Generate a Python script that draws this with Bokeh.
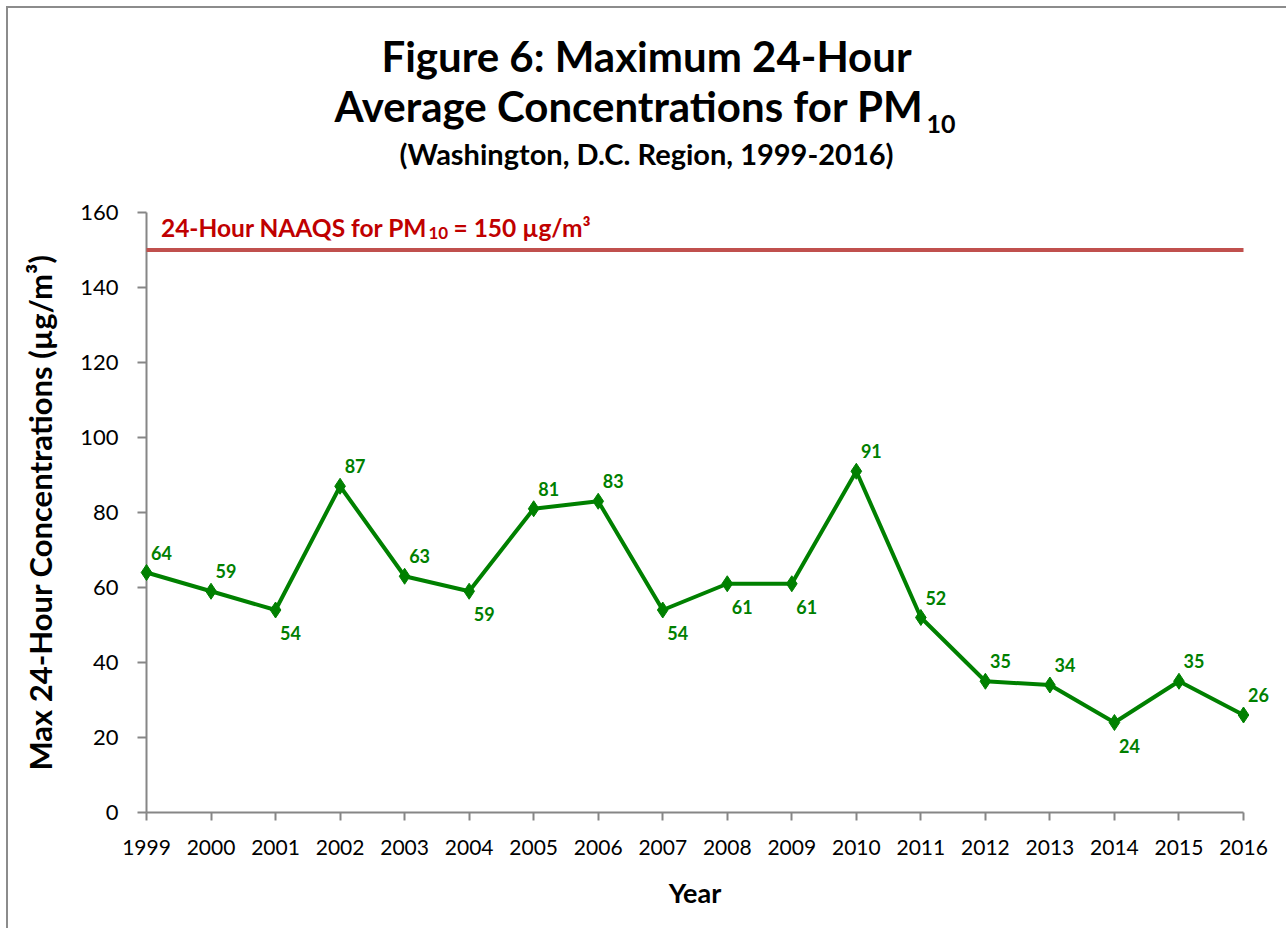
from bokeh.plotting import figure
from bokeh.models import Range1d, FixedTicker, Label
from bokeh.core.properties import value
from bokeh.embed import file_html
from bokeh.resources import INLINE

# ---------------- data ----------------
years = [1999, 2000, 2001, 2002, 2003, 2004, 2005, 2006, 2007, 2008,
         2009, 2010, 2011, 2012, 2013, 2014, 2015, 2016]
pm10_max = [64, 59, 54, 87, 63, 59, 81, 83, 54, 61,
            61, 91, 52, 35, 34, 24, 35, 26]
label_side = ["above", "above", "below", "above", "above", "below", "above", "above", "below", "below",
              "below", "above", "above", "above", "above", "below", "above", "above"]
naaqs_value = 150
y_ticks = [0, 20, 40, 60, 80, 100, 120, 140, 160]

title_line1 = "Figure 6: Maximum 24-Hour"
title_line2 = "Average Concentrations for PM"
title_sub = "10"
title_line3 = "(Washington, D.C. Region, 1999-2016)"
naaqs_text = "24-Hour NAAQS for PM"
naaqs_sub = "10"
naaqs_tail = "= 150 \u00b5g/m\u00b3"
y_label = "Max 24-Hour Concentrations (\u00b5g/m\u00b3)"
x_label = "Year"

# ---------------- layout ----------------
W, H = 1286, 928
ML, MR, MT, MB = 146, 43, 212, 116
X0, X1 = years[0], years[-1]
Y0, Y1 = 0, 160
frame_w = W - ML - MR
frame_h = H - MT - MB
ppx = frame_w / (X1 - X0)
ppy = frame_h / (Y1 - Y0)

def px2x(xp):
    return X0 + (xp - ML) / ppx

def px2y(yp):
    return Y1 - (yp - MT) / ppy

FONT = "Lato"
GREEN = "#008000"
RED_LINE = "#C0504D"
RED_TEXT = "#C00000"
AXIS = "#868686"

p = figure(width=W, height=H, output_backend="svg", toolbar_location=None, title=None,
           x_range=Range1d(X0, X1), y_range=Range1d(Y0, Y1),
           min_border_left=ML, min_border_right=MR, min_border_top=MT, min_border_bottom=MB)
p.outline_line_color = None
p.xgrid.visible = False
p.ygrid.visible = False
p.background_fill_color = "white"
p.border_fill_color = None
p.styles = {"background-color": "white",
            "box-shadow": "inset 6px 6px 0 0 white, inset 8px 8px 0 0 #8c8c8c"}

# ---------------- title (text glyphs drawn above the frame) ----------------
def add_text(xp, yp, txt, size, align, color="black"):
    p.text(x=[px2x(xp)], y=[px2y(yp)], text=[txt], text_align=align,
           text_baseline="alphabetic", text_font=value(FONT), text_font_style="bold",
           text_font_size=size, text_color=color, level="overlay")

add_text(646, 55, title_line1, "42px", "center")
add_text(923, 105, title_line2, "42px", "right")
add_text(926, 123, title_sub, "25px", "left")
add_text(646, 153, title_line3, "29px", "center")

# ---------------- axes ----------------
xa = p.xaxis[0]
xa.ticker = FixedTicker(ticks=years)
xa.axis_line_color = AXIS
xa.axis_line_width = 2
xa.major_tick_line_color = AXIS
xa.major_tick_line_width = 2
xa.major_tick_in = 0
xa.major_tick_out = 8
xa.minor_tick_line_color = None
xa.major_label_standoff = 19
xa.major_label_text_font = FONT
xa.major_label_text_font_size = "21px"
xa.major_label_text_color = "black"
xa.axis_label = x_label
xa.axis_label_text_font = FONT
xa.axis_label_text_font_style = "bold"
xa.axis_label_text_font_size = "27px"
xa.axis_label_text_color = "black"
xa.axis_label_standoff = 18

ya = p.yaxis[0]
ya.ticker = FixedTicker(ticks=y_ticks)
ya.axis_line_color = AXIS
ya.axis_line_width = 2
ya.major_tick_line_color = AXIS
ya.major_tick_line_width = 2
ya.major_tick_in = 0
ya.major_tick_out = 9
ya.minor_tick_line_color = None
ya.major_label_standoff = 19
ya.major_label_text_font = FONT
ya.major_label_text_font_size = "22px"
ya.major_label_text_color = "black"
ya.axis_label = y_label
ya.axis_label_text_font = FONT
ya.axis_label_text_font_style = "bold"
ya.axis_label_text_font_size = "31px"
ya.axis_label_text_color = "black"
ya.axis_label_standoff = 18

# ---------------- NAAQS line ----------------
p.line([years[0], years[-1]], [naaqs_value, naaqs_value], line_color=RED_LINE, line_width=4,
       level="overlay")

# ---------------- data series ----------------
p.line(years, pm10_max, line_color=GREEN, line_width=4, level="overlay")
p.scatter(years, pm10_max, marker="diamond", size=16, fill_color=GREEN, line_color=GREEN,
          level="overlay")

# data labels
dy_up = 20 / ppy
dy_dn = 23 / ppy
lab_y = [v + dy_up if s == "above" else v - dy_dn for v, s in zip(pm10_max, label_side)]
lab_t = [str(v) for v in pm10_max]
p.text(x=years, y=lab_y, text=lab_t, x_offset=15, text_align="center", text_baseline="middle",
       text_font=value(FONT), text_font_style="bold", text_font_size="18px",
       text_color=GREEN, level="overlay")

# ---------------- NAAQS label ----------------
p.add_layout(Label(x=px2x(427), y=px2y(227), text=naaqs_text, text_align="right",
                   text_baseline="alphabetic", text_font=FONT, text_font_style="bold",
                   text_font_size="24.5px", text_color=RED_TEXT))
p.add_layout(Label(x=px2x(428), y=px2y(232), text=naaqs_sub, text_align="left",
                   text_baseline="alphabetic", text_font=FONT, text_font_style="bold",
                   text_font_size="17px", text_color=RED_TEXT))
p.add_layout(Label(x=px2x(453), y=px2y(227), text=naaqs_tail, text_align="left",
                   text_baseline="alphabetic", text_font=FONT, text_font_style="bold",
                   text_font_size="24.5px", text_color=RED_TEXT))

open("out.html", "w").write(file_html(p, INLINE))
